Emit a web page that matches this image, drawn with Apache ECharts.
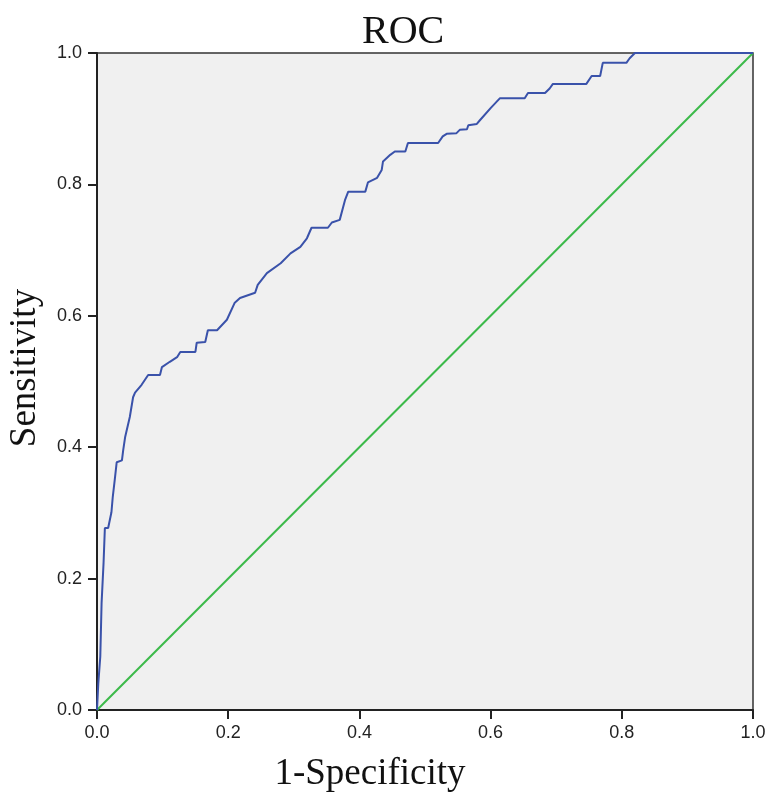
<!DOCTYPE html>
<html><head><meta charset="utf-8">
<script src="https://cdn.jsdelivr.net/npm/echarts@6/dist/echarts.min.js"></script>
<style>html,body{margin:0;padding:0;background:#fff}#c{width:767px;height:793px}</style>
</head><body><div id="c"></div>
<script>
const fpr = [0,0.002,0.005,0.007,0.01,0.012,0.017,0.022,0.024,0.027,0.03,0.038,0.04,0.043,0.05,0.055,0.058,0.068,0.078,0.096,0.099,0.111,0.122,0.127,0.15,0.152,0.165,0.169,0.183,0.198,0.21,0.218,0.241,0.245,0.259,0.28,0.295,0.31,0.32,0.327,0.352,0.358,0.37,0.378,0.383,0.409,0.413,0.427,0.434,0.436,0.447,0.454,0.47,0.474,0.52,0.527,0.533,0.548,0.553,0.564,0.566,0.579,0.584,0.6,0.614,0.652,0.657,0.683,0.69,0.695,0.746,0.754,0.767,0.771,0.807,0.812,0.82,1];
const tpr = [0,0.041,0.081,0.163,0.224,0.277,0.277,0.301,0.324,0.35,0.377,0.38,0.396,0.416,0.446,0.476,0.483,0.495,0.51,0.51,0.522,0.53,0.537,0.545,0.545,0.559,0.56,0.578,0.578,0.594,0.62,0.627,0.635,0.647,0.665,0.68,0.695,0.705,0.718,0.734,0.734,0.742,0.746,0.776,0.789,0.789,0.803,0.81,0.822,0.835,0.845,0.85,0.85,0.863,0.863,0.873,0.877,0.878,0.883,0.884,0.89,0.892,0.898,0.916,0.931,0.931,0.939,0.939,0.946,0.953,0.953,0.965,0.965,0.985,0.985,0.992,1.0,1];
const refX = [0,1];
const refY = [0,1];
const titleText = 'ROC';
const xName = '1-Specificity';
const yName = 'Sensitivity';

const chart = echarts.init(document.getElementById('c'), null, {renderer:'canvas'});
const serif = '"Liberation Serif","DejaVu Serif",serif';
const sans = '"Liberation Sans",Arial,sans-serif';
const axisCommon = {
  min:0, max:1, interval:0.2,
  axisLine:{show:true, onZero:false, lineStyle:{color:'#222', width:2}},
  axisTick:{show:true, length:9, lineStyle:{color:'#222', width:2}},
  axisLabel:{color:'#222', fontSize:18, fontFamily:sans, formatter:v=>v.toFixed(1)},
  splitLine:{show:false},
  nameLocation:'middle',
  nameTextStyle:{fontFamily:serif, fontSize:37, color:'#111'}
};
chart.setOption({
  animation:false,
  backgroundColor:'#fff',
  title:{text:titleText, left:357, top:7, textStyle:{fontFamily:serif, fontSize:40, fontWeight:'normal', color:'#111'}},
  grid:{left:97, right:14, top:53, bottom:83, outerBoundsMode:'none', containLabel:false, show:true, backgroundColor:'#f0f0f0', borderColor:'#333', borderWidth:1.5},
  xAxis:Object.assign({}, axisCommon, {type:'value', name:xName, nameGap:46,
    axisLabel:Object.assign({}, axisCommon.axisLabel, {margin:14}),
    nameTextStyle:Object.assign({}, axisCommon.nameTextStyle, {padding:[0,110,0,0]})}),
  yAxis:Object.assign({}, axisCommon, {type:'value', name:yName, nameGap:53,
    axisLabel:Object.assign({}, axisCommon.axisLabel, {margin:15}),
    nameTextStyle:Object.assign({}, axisCommon.nameTextStyle, {padding:[0,0,0,27]})}),
  series:[
    {type:'line', data:refX.map((x,i)=>[x,refY[i]]), symbol:'none', lineStyle:{color:'#3cba4a', width:2}, z:2},
    {type:'line', data:fpr.map((x,i)=>[x,tpr[i]]), symbol:'none', lineStyle:{color:'#3a52aa', width:2}, z:3}
  ]
});
</script></body></html>
